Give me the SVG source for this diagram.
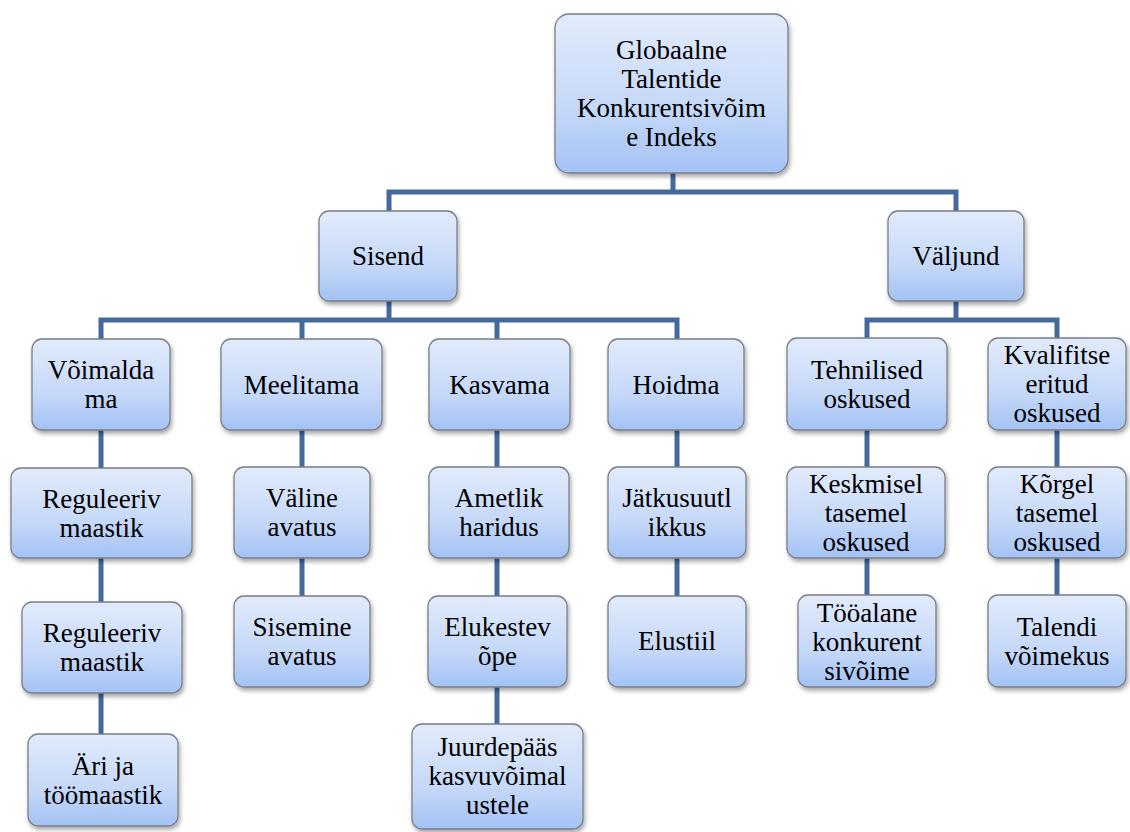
<svg xmlns="http://www.w3.org/2000/svg" width="1130" height="832" viewBox="0 0 1130 832">
<defs>
<linearGradient id="g" x1="0" y1="0" x2="0" y2="1">
<stop offset="0" stop-color="#e2ebfb"/>
<stop offset="0.6" stop-color="#c5d8f8"/>
<stop offset="1" stop-color="#a3c2f4"/>
</linearGradient>
<filter id="sh" x="-10%" y="-10%" width="125%" height="130%">
<feDropShadow dx="1.5" dy="3" stdDeviation="2" flood-color="#000" flood-opacity="0.35"/>
</filter>
</defs>
<style>
.b{fill:url(#g);stroke:#7a7f88;stroke-width:1.3;filter:url(#sh)}
text{font-family:"Liberation Serif",Tinos,"Times New Roman",Times,"Noto Serif","DejaVu Serif",FreeSerif,serif;font-size:27px;fill:#000;text-anchor:middle}
.c{stroke:#44699c;stroke-width:5;fill:none;stroke-linecap:butt;stroke-linejoin:miter}
</style>
<rect width="1130" height="832" fill="#fff"/>
<g id="connectors" class="c">
<path d="M673 173V192M389 211V192H956V211"/>
<path d="M389 301V320M101 339V320H677V339M302 320V339M497 320V339"/>
<path d="M956 301V320M867 338V320H1057V338"/>
<path d="M101 430V468M101 558V602M101 693V734"/>
<path d="M302 430V467M302 558V596"/>
<path d="M497 430V467M497 558V596M497 687V724"/>
<path d="M677 430V467M677 558V596"/>
<path d="M867 430V467M867 558V595"/>
<path d="M1057 430V467M1057 558V595"/>
</g>
<g id="n-root"><rect class="b" x="555" y="14" width="233" height="159" rx="14"/><text x="671.5" y="59">Globaalne</text><text x="671.5" y="88">Talentide</text><text x="671.5" y="117">Konkurentsivõim</text><text x="671.5" y="146">e Indeks</text></g>
<g id="n-sisend"><rect class="b" x="319" y="211" width="138" height="90" rx="10"/><text x="388" y="265">Sisend</text></g>
<g id="n-valjund"><rect class="b" x="888" y="211" width="136" height="90" rx="10"/><text x="956" y="265">Väljund</text></g>
<g id="n-voimaldama"><rect class="b" x="32" y="339" width="138" height="91" rx="10"/><text x="101" y="379">Võimalda</text><text x="101" y="408">ma</text></g>
<g id="n-meelitama"><rect class="b" x="221" y="339" width="161" height="91" rx="10"/><text x="301.5" y="394">Meelitama</text></g>
<g id="n-kasvama"><rect class="b" x="429" y="339" width="141" height="91" rx="10"/><text x="499.5" y="394">Kasvama</text></g>
<g id="n-hoidma"><rect class="b" x="608" y="339" width="136" height="91" rx="10"/><text x="676" y="394">Hoidma</text></g>
<g id="n-tehnilised"><rect class="b" x="787" y="338" width="160" height="92" rx="10"/><text x="867" y="379">Tehnilised</text><text x="867" y="408">oskused</text></g>
<g id="n-kvalif"><rect class="b" x="988" y="338" width="138" height="92" rx="10"/><text x="1057" y="364">Kvalifitse</text><text x="1057" y="393">eritud</text><text x="1057" y="422">oskused</text></g>
<g id="n-reg1"><rect class="b" x="11" y="468" width="181" height="90" rx="10"/><text x="101.5" y="508">Reguleeriv</text><text x="101.5" y="537">maastik</text></g>
<g id="n-valine"><rect class="b" x="234" y="467" width="136" height="91" rx="10"/><text x="302" y="507">Väline</text><text x="302" y="536">avatus</text></g>
<g id="n-ametlik"><rect class="b" x="429" y="467" width="140" height="91" rx="10"/><text x="499" y="507">Ametlik</text><text x="499" y="536">haridus</text></g>
<g id="n-jatkusuutlikkus"><rect class="b" x="608" y="467" width="138" height="91" rx="10"/><text x="677" y="507">Jätkusuutl</text><text x="677" y="536">ikkus</text></g>
<g id="n-keskmisel"><rect class="b" x="787" y="467" width="158" height="91" rx="10"/><text x="866" y="493">Keskmisel</text><text x="866" y="522">tasemel</text><text x="866" y="551">oskused</text></g>
<g id="n-korgel"><rect class="b" x="988" y="467" width="138" height="91" rx="10"/><text x="1057" y="493">Kõrgel</text><text x="1057" y="522">tasemel</text><text x="1057" y="551">oskused</text></g>
<g id="n-reg2"><rect class="b" x="22" y="602" width="160" height="91" rx="10"/><text x="102" y="642">Reguleeriv</text><text x="102" y="671">maastik</text></g>
<g id="n-sisemine"><rect class="b" x="234" y="596" width="136" height="91" rx="10"/><text x="302" y="636">Sisemine</text><text x="302" y="665">avatus</text></g>
<g id="n-elukestev"><rect class="b" x="428" y="596" width="139" height="91" rx="10"/><text x="497.5" y="636">Elukestev</text><text x="497.5" y="665">õpe</text></g>
<g id="n-elustiil"><rect class="b" x="608" y="596" width="138" height="91" rx="10"/><text x="677" y="650">Elustiil</text></g>
<g id="n-tooalane"><rect class="b" x="798" y="595" width="138" height="92" rx="10"/><text x="867" y="622">Tööalane</text><text x="867" y="651">konkurent</text><text x="867" y="680">sivõime</text></g>
<g id="n-talendi"><rect class="b" x="988" y="595" width="138" height="92" rx="10"/><text x="1057" y="636">Talendi</text><text x="1057" y="665">võimekus</text></g>
<g id="n-ari"><rect class="b" x="28" y="734" width="150" height="92" rx="10"/><text x="103" y="775">Äri ja</text><text x="103" y="804">töömaastik</text></g>
<g id="n-juurdepaas"><rect class="b" x="412" y="724" width="171" height="105" rx="10"/><text x="497.5" y="756">Juurdepääs</text><text x="497.5" y="785">kasvuvõimal</text><text x="497.5" y="814">ustele</text></g>
</svg>
